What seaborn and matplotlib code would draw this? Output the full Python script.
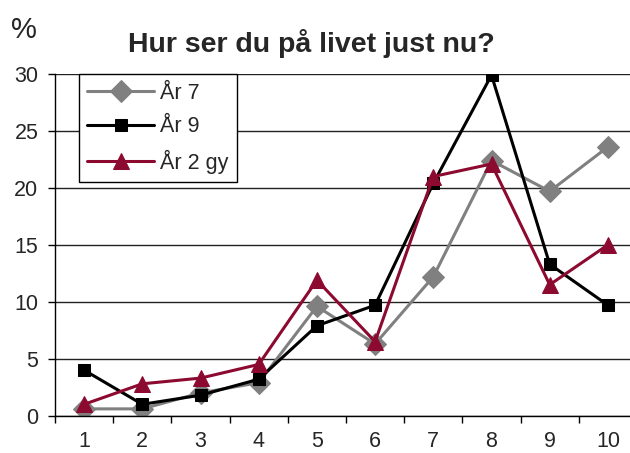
import pandas as pd
import seaborn as sns
import matplotlib.pyplot as plt

# Data
categories = [1, 2, 3, 4, 5, 6, 7, 8, 9, 10]
ar7 = [0.6, 0.6, 2.0, 2.9, 9.6, 6.3, 12.2, 22.4, 19.7, 23.6]
ar9 = [4.0, 1.0, 1.8, 3.2, 7.9, 9.7, 20.4, 29.9, 13.3, 9.7]
ar2gy = [1.0, 2.8, 3.3, 4.5, 11.9, 6.5, 21.0, 22.1, 11.5, 15.0]
series_names = ['År 7', 'År 9', 'År 2 gy']

df = pd.DataFrame({
    'kategori': categories * 3,
    'procent': ar7 + ar9 + ar2gy,
    'serie': [n for n in series_names for _ in categories],
})

sns.set_style('white')
plt.rcParams['font.family'] = ['Liberation Sans', 'DejaVu Sans']

fig = plt.figure(figsize=(6.3, 4.53), dpi=100)
ax = fig.add_axes([55 / 630, 37.3 / 453, 582 / 630, 341.7 / 453])

colors = {'År 7': '#808080', 'År 9': '#000000', 'År 2 gy': '#8c0a30'}
markers = {'År 7': 'D', 'År 9': 's', 'År 2 gy': '^'}
sizes = {'År 7': 11, 'År 9': 8.5, 'År 2 gy': 11}

for name in series_names:
    sub = df[df['serie'] == name]
    sns.lineplot(data=sub, x='kategori', y='procent', ax=ax,
                 color=colors[name], marker=markers[name],
                 markersize=sizes[name], markeredgecolor=colors[name],
                 linewidth=2.2, label=name)

ax.set_xlim(0.5, 10.5)
ax.set_ylim(0, 30)
ax.set_yticks(range(0, 31, 5))
ax.set_xticks(categories)
ax.set_xticks([c + 0.5 for c in range(0, 11)], minor=True)
ax.set_xlabel('')
ax.set_ylabel('')
ax.grid(axis='y', color='#222222', linewidth=1)
ax.set_axisbelow(True)

for s in ['top', 'right']:
    ax.spines[s].set_visible(False)
for s in ['left', 'bottom']:
    ax.spines[s].set_color('black')
    ax.spines[s].set_linewidth(1)

ax.tick_params(axis='y', which='major', left=True, length=5, width=1,
               color='black', labelsize=15.5, pad=7)
ax.tick_params(axis='x', which='major', bottom=True, length=0,
               labelsize=15.5, pad=11)
ax.tick_params(axis='x', which='minor', bottom=True, length=5, width=1,
               color='black')

leg = ax.legend(loc='upper left', bbox_to_anchor=(0.041, 1.0),
                borderaxespad=0, fontsize=15.5, frameon=True, fancybox=False,
                handlelength=3.1, handletextpad=0.25, labelspacing=0.58,
                borderpad=0.4)
leg.get_frame().set_edgecolor('black')
leg.get_frame().set_linewidth(1)
leg.get_frame().set_alpha(1)

fig.text(311 / 630, 1 - 43 / 453, 'Hur ser du på livet just nu?',
         ha='center', va='center', fontsize=20.5, fontweight='bold')
fig.text(11 / 630, 1 - 30 / 453, '%', ha='left', va='center', fontsize=21)

plt.savefig('out.png', dpi=100)
plt.close()
